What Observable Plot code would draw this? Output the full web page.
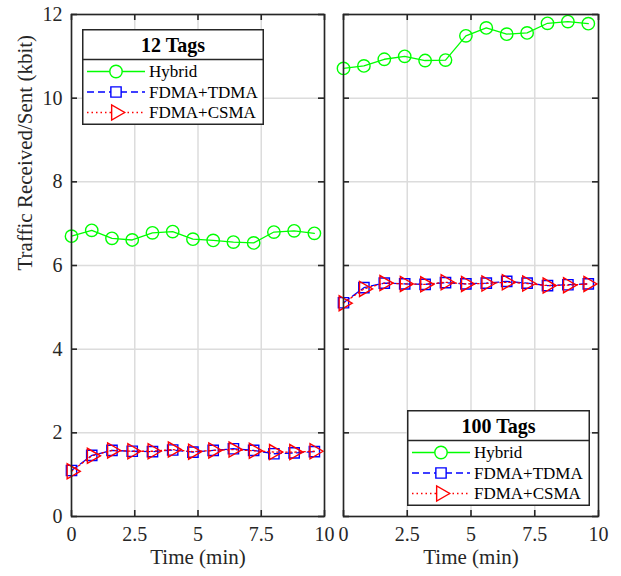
<!DOCTYPE html>
<html><head><meta charset="utf-8">
<script src="https://cdn.jsdelivr.net/npm/d3@7"></script>
<script src="https://cdn.jsdelivr.net/npm/@observablehq/plot@0.6"></script>
<style>
html,body{margin:0;padding:0;background:#fff;}
#chart{position:relative;width:621px;height:576px;font-family:"Liberation Serif","Times New Roman",serif;color:#262626;}
#chart svg{overflow:visible;}
.panel{position:absolute;top:0;}
.legend{position:absolute;}
</style></head><body><div id="chart"></div>
<script>
const time = [0, 0.8, 1.6, 2.4, 3.2, 4.0, 4.8, 5.6, 6.4, 7.2, 8.0, 8.8, 9.6];
const hybrid12 = [6.70, 6.84, 6.65, 6.61, 6.78, 6.81, 6.63, 6.60, 6.56, 6.54, 6.80, 6.83, 6.77];
const tdma12 = [1.10, 1.46, 1.58, 1.56, 1.55, 1.59, 1.54, 1.58, 1.62, 1.58, 1.50, 1.52, 1.55];
const csma12 = [1.08, 1.45, 1.58, 1.56, 1.56, 1.60, 1.55, 1.58, 1.60, 1.57, 1.54, 1.54, 1.56];
const hybrid100 = [10.71, 10.77, 10.93, 11.00, 10.90, 10.91, 11.49, 11.68, 11.53, 11.56, 11.79, 11.83, 11.78];
const tdma100 = [5.11, 5.47, 5.58, 5.56, 5.55, 5.59, 5.56, 5.58, 5.62, 5.58, 5.52, 5.54, 5.56];
const csma100 = [5.10, 5.44, 5.58, 5.56, 5.55, 5.60, 5.56, 5.57, 5.60, 5.57, 5.52, 5.53, 5.56];
const seriesNames = ["Hybrid", "FDMA+TDMA", "FDMA+CSMA"];
const panelTitles = ["12 Tags", "100 Tags"];
const xTicks = [0, 2.5, 5, 7.5, 10];
const yTicks = [0, 2, 4, 6, 8, 10, 12];
const xLabel = "Time (min)";
const yLabel = "Traffic Received/Sent (kbit)";

const ink = "#262626";
const styles = [
  {color: "#00ff00", dash: null, symbol: "circle", r: 6.2, rotate: 0},
  {color: "#0000ff", dash: "7,4", symbol: "square", r: 5.8, rotate: 0},
  {color: "#ff0000", dash: "1.5,3", symbol: "triangle", r: 5.6, rotate: 90}
];

const chart = document.getElementById("chart");
const H = 576, mt = 14, mb = 60;
const innerH = H - mt - mb;

function panel(seriesValues, {left, W, ml, mr, showY}) {
  const innerW = W - ml - mr;
  const marks = [
    Plot.gridX(xTicks, {stroke: "#dcdcdc", strokeOpacity: 1, strokeWidth: 1.5}),
    Plot.gridY(yTicks, {stroke: "#dcdcdc", strokeOpacity: 1, strokeWidth: 1.5})
  ];
  seriesValues.forEach((vals, i) => {
    const st = styles[i];
    const rows = time.map((t, j) => ({t, v: vals[j], s: seriesNames[i]}));
    marks.push(Plot.line(rows, {x: "t", y: "v", stroke: st.color, strokeWidth: 1.3, strokeDasharray: st.dash}));
    marks.push(Plot.dot(rows, {x: "t", y: "v", symbol: st.symbol, r: st.r, stroke: st.color, fill: "none", strokeWidth: 1.4, rotate: st.rotate}));
  });
  marks.push(
    Plot.frame({stroke: ink, strokeWidth: 1.6}),
    Plot.tickY(yTicks, {y: d => d, stroke: ink, strokeWidth: 1.6, insetRight: innerW - 6}),
    Plot.tickY(yTicks, {y: d => d, stroke: ink, strokeWidth: 1.6, insetLeft: innerW - 6}),
    Plot.tickX(xTicks, {x: d => d, stroke: ink, strokeWidth: 1.6, insetTop: innerH - 6}),
    Plot.tickX(xTicks, {x: d => d, stroke: ink, strokeWidth: 1.6, insetBottom: innerH - 6}),
    Plot.axisX(xTicks, {tickSize: 0, tickPadding: 10, fontSize: 20, fill: ink, tickFormat: d => String(d), label: null}),
    Plot.text([xLabel], {text: d => d, frameAnchor: "bottom", dy: 47, fontSize: 21, fill: ink})
  );
  if (showY) {
    marks.push(
      Plot.axisY(yTicks, {tickSize: 0, tickPadding: 9, fontSize: 20, fill: ink, tickFormat: d => String(d), label: null}),
      Plot.text([yLabel], {text: d => d, frameAnchor: "left", rotate: -90, dx: -46, dy: 5, fontSize: 21, fill: ink})
    );
  }
  const svg = Plot.plot({
    width: W, height: H,
    marginLeft: ml, marginRight: mr, marginTop: mt, marginBottom: mb,
    x: {domain: [0, 10]},
    y: {domain: [0, 12], axis: showY ? undefined : null},
    style: {fontFamily: "'Liberation Serif', 'Times New Roman', serif", background: "transparent", color: ink, overflow: "visible"},
    marks
  });
  const div = document.createElement("div");
  div.className = "panel";
  div.style.left = left + "px";
  div.appendChild(svg);
  chart.appendChild(div);
}

panel([hybrid12, tdma12, csma12], {left: 0, W: 334, ml: 71, mr: 10, showY: true});
panel([hybrid100, tdma100, csma100], {left: 333, W: 288, ml: 10, mr: 23, showY: false});

function legend(title, x, y, w, h) {
  const div = document.createElement("div");
  div.className = "legend";
  div.style.left = x + "px";
  div.style.top = y + "px";
  chart.appendChild(div);
  const svg = d3.select(div).append("svg").attr("width", w).attr("height", h)
    .style("display", "block").style("font-family", "'Liberation Serif', 'Times New Roman', serif");
  svg.append("rect").attr("x", 0.75).attr("y", 0.75).attr("width", w - 1.5).attr("height", h - 1.5)
    .attr("fill", "#fff").attr("stroke", ink).attr("stroke-width", 1.5);
  svg.append("line").attr("x1", 0).attr("x2", w).attr("y1", 30.5).attr("y2", 30.5).attr("stroke", ink).attr("stroke-width", 1.5);
  svg.append("text").attr("x", w / 2).attr("y", 16).attr("text-anchor", "middle").attr("dominant-baseline", "central")
    .attr("font-weight", "bold").attr("font-size", 20).attr("fill", "#000").text(title);
  const rowY = [42.5, 63, 83.5];
  seriesNames.forEach((name, i) => {
    const st = styles[i];
    const g = svg.append("g").attr("transform", `translate(0,${rowY[i]})`);
    g.append("line").attr("x1", 5).attr("x2", 63).attr("y1", 0).attr("y2", 0)
      .attr("stroke", st.color).attr("stroke-width", 1.3).attr("stroke-dasharray", st.dash);
    const sym = {circle: d3.symbolCircle, square: d3.symbolSquare, triangle: d3.symbolTriangle}[st.symbol];
    g.append("path").attr("d", d3.symbol(sym, Math.PI * st.r * st.r)())
      .attr("transform", `translate(34,0) rotate(${st.rotate})`)
      .attr("fill", "#fff").attr("stroke", st.color).attr("stroke-width", 1.4);
    g.append("text").attr("x", 67).attr("y", 0).attr("dominant-baseline", "central")
      .attr("font-size", 17).attr("fill", "#000").text(name);
  });
}
legend(panelTitles[0], 82, 29, 182, 96);
legend(panelTitles[1], 407, 410, 183, 96);
</script>
</body></html>
